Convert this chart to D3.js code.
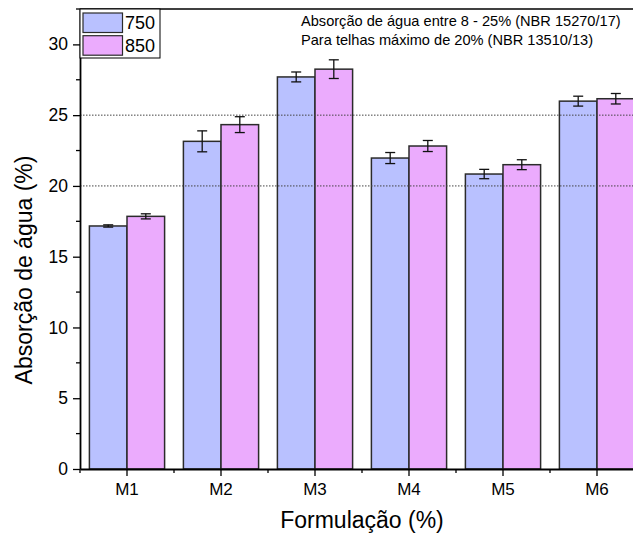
<!DOCTYPE html>
<html>
<head>
<meta charset="utf-8">
<script src="https://cdn.jsdelivr.net/npm/d3@7"></script>
<style>
  body { margin: 0; background: #fff; }
  svg { font-family: Arial, "Liberation Sans", sans-serif; }
</style>
</head>
<body>
<div id="graphic"></div>
<script>
const groups = ["M1", "M2", "M3", "M4", "M5", "M6"]
const subgroups = ["750", "850"]
const values750 = [17.17, 23.15, 27.7, 21.97, 20.84, 25.99]
const values850 = [17.85, 24.33, 28.25, 22.82, 21.5, 26.16]
const errors750 = [0.08, 0.74, 0.35, 0.39, 0.33, 0.35]
const errors850 = [0.18, 0.56, 0.66, 0.39, 0.35, 0.37]
const yTicks = [0, 5, 10, 15, 20, 25, 30]
const limitLines = [20, 25]
const notes = ["Absorção de água entre 8 - 25% (NBR 15270/17)", "Para telhas máximo de 20% (NBR 13510/13)"]

const margin = { top: 9, right: 0, bottom: 72, left: 80 },
    width = 564,
    height = 541 - margin.top - margin.bottom;

const svg = d3.select("#graphic")
    .append("svg")
    .attr("width", 633)
    .attr("height", 541)
    .append("g")
    .attr("transform", `translate(${margin.left},${margin.top})`);

const data = groups.map((g, i) => ({
    group: g,
    "750": values750[i], "850": values850[i],
    e750: errors750[i], e850: errors850[i]
}))

const x = d3.scaleBand()
    .domain(groups)
    .range([0, width])
    .paddingInner(0.2)
    .paddingOuter(0.1)

const xSub = d3.scaleBand()
    .domain(subgroups)
    .range([0, x.bandwidth()])

const y = d3.scaleLinear()
    .domain([0, 32.5])
    .range([height, 0]);

const color = d3.scaleOrdinal()
    .domain(subgroups)
    .range(["#B9C1FF", "#EBABFD"])

// bars
const bars = svg.append("g")
    .selectAll("g")
    .data(data)
    .join("g")
    .attr("transform", d => `translate(${x(d.group)},0)`)

bars.selectAll("rect")
    .data(d => subgroups.map(k => ({ key: k, value: d[k] })))
    .join("rect")
    .attr("x", d => xSub(d.key))
    .attr("y", d => y(d.value))
    .attr("width", xSub.bandwidth())
    .attr("height", d => y(0) - y(d.value))
    .attr("fill", d => color(d.key))
    .attr("stroke", "#2b2b2b")
    .attr("stroke-width", 1.5)

// error bars
const errs = bars.selectAll("g.err")
    .data(d => subgroups.map(k => ({ key: k, value: d[k], err: d["e" + k] })))
    .join("g")
    .attr("class", "err")
    .attr("stroke", "#111")
    .attr("stroke-width", 1.3)

errs.append("line")
    .attr("x1", d => xSub(d.key) + xSub.bandwidth() / 2)
    .attr("x2", d => xSub(d.key) + xSub.bandwidth() / 2)
    .attr("y1", d => y(d.value + d.err))
    .attr("y2", d => y(d.value - d.err))
errs.append("line")
    .attr("x1", d => xSub(d.key) + xSub.bandwidth() / 2 - 5)
    .attr("x2", d => xSub(d.key) + xSub.bandwidth() / 2 + 5)
    .attr("y1", d => y(d.value + d.err))
    .attr("y2", d => y(d.value + d.err))
errs.append("line")
    .attr("x1", d => xSub(d.key) + xSub.bandwidth() / 2 - 5)
    .attr("x2", d => xSub(d.key) + xSub.bandwidth() / 2 + 5)
    .attr("y1", d => y(d.value - d.err))
    .attr("y2", d => y(d.value - d.err))

// dotted reference lines (on top of bars)
svg.append("g")
    .selectAll("line")
    .data(limitLines)
    .join("line")
    .attr("x1", 0)
    .attr("x2", width)
    .attr("y1", d => y(d))
    .attr("y2", d => y(d))
    .attr("stroke", "#444")
    .attr("stroke-width", 1)
    .attr("stroke-dasharray", "1.5,1.5")

// top frame
svg.append("line")
    .attr("x1", 0).attr("x2", width)
    .attr("y1", 0).attr("y2", 0)
    .attr("stroke", "#000").attr("stroke-width", 1.6)

// x axis
const xAxis = svg.append("g")
    .attr("transform", `translate(0, ${height})`)
    .call(d3.axisBottom(x).tickSize(7).tickSizeOuter(0).tickPadding(7));
xAxis.select(".domain").attr("stroke-width", 1.8)
xAxis.selectAll(".tick line").attr("stroke-width", 1.3)
xAxis.selectAll("text").attr("font-size", "17px").attr("fill", "#000")

const minorX = groups.map(g => x(g) - x.step() * x.paddingInner() / 2)
svg.append("g")
    .selectAll("line")
    .data(minorX)
    .join("line")
    .attr("x1", d => Math.max(d, 0))
    .attr("x2", d => Math.max(d, 0))
    .attr("y1", height)
    .attr("y2", height + 4)
    .attr("stroke", "#000")
    .attr("stroke-width", 1.3)

// y axis
const yAxis = svg.append("g")
    .call(d3.axisLeft(y).tickValues(yTicks).tickSize(7).tickSizeOuter(0).tickPadding(5));
yAxis.select(".domain").attr("stroke-width", 1.8)
yAxis.selectAll(".tick line").attr("stroke-width", 1.3)
yAxis.selectAll("text").attr("font-size", "17.5px").attr("fill", "#000")

svg.append("g")
    .selectAll("line")
    .data(yTicks.map(t => t + 2.5))
    .join("line")
    .attr("x1", -4).attr("x2", 0)
    .attr("y1", d => y(d)).attr("y2", d => y(d))
    .attr("stroke", "#000")
    .attr("stroke-width", 1.3)

// axis titles
svg.append("text")
    .attr("transform", `translate(${-48},${261}) rotate(-90)`)
    .attr("text-anchor", "middle")
    .attr("font-size", "23px")
    .text("Absorção de água (%)")

svg.append("text")
    .attr("x", 282)
    .attr("y", height + 59)
    .attr("text-anchor", "middle")
    .attr("font-size", "23px")
    .text("Formulação (%)")

// legend
const legend = svg.append("g")
legend.append("rect")
    .attr("x", 0).attr("y", 0)
    .attr("width", 80).attr("height", 49)
    .attr("fill", "#fff")
    .attr("stroke", "#000")
    .attr("stroke-width", 1)
subgroups.forEach((k, i) => {
    legend.append("rect")
        .attr("x", 3).attr("y", 4 + i * 22.7)
        .attr("width", 39.5).attr("height", 19.5)
        .attr("fill", color(k))
        .attr("stroke", "#2b2b2b")
        .attr("stroke-width", 1.2)
    legend.append("text")
        .attr("x", 45).attr("y", 20 + i * 22.7)
        .attr("font-size", "18px")
        .text(k)
})

// notes
svg.selectAll("text.note")
    .data(notes)
    .join("text")
    .attr("class", "note")
    .attr("x", 221)
    .attr("y", (d, i) => 17 + i * 19)
    .attr("font-size", "14.6px")
    .text(d => d)
</script>
</body>
</html>
